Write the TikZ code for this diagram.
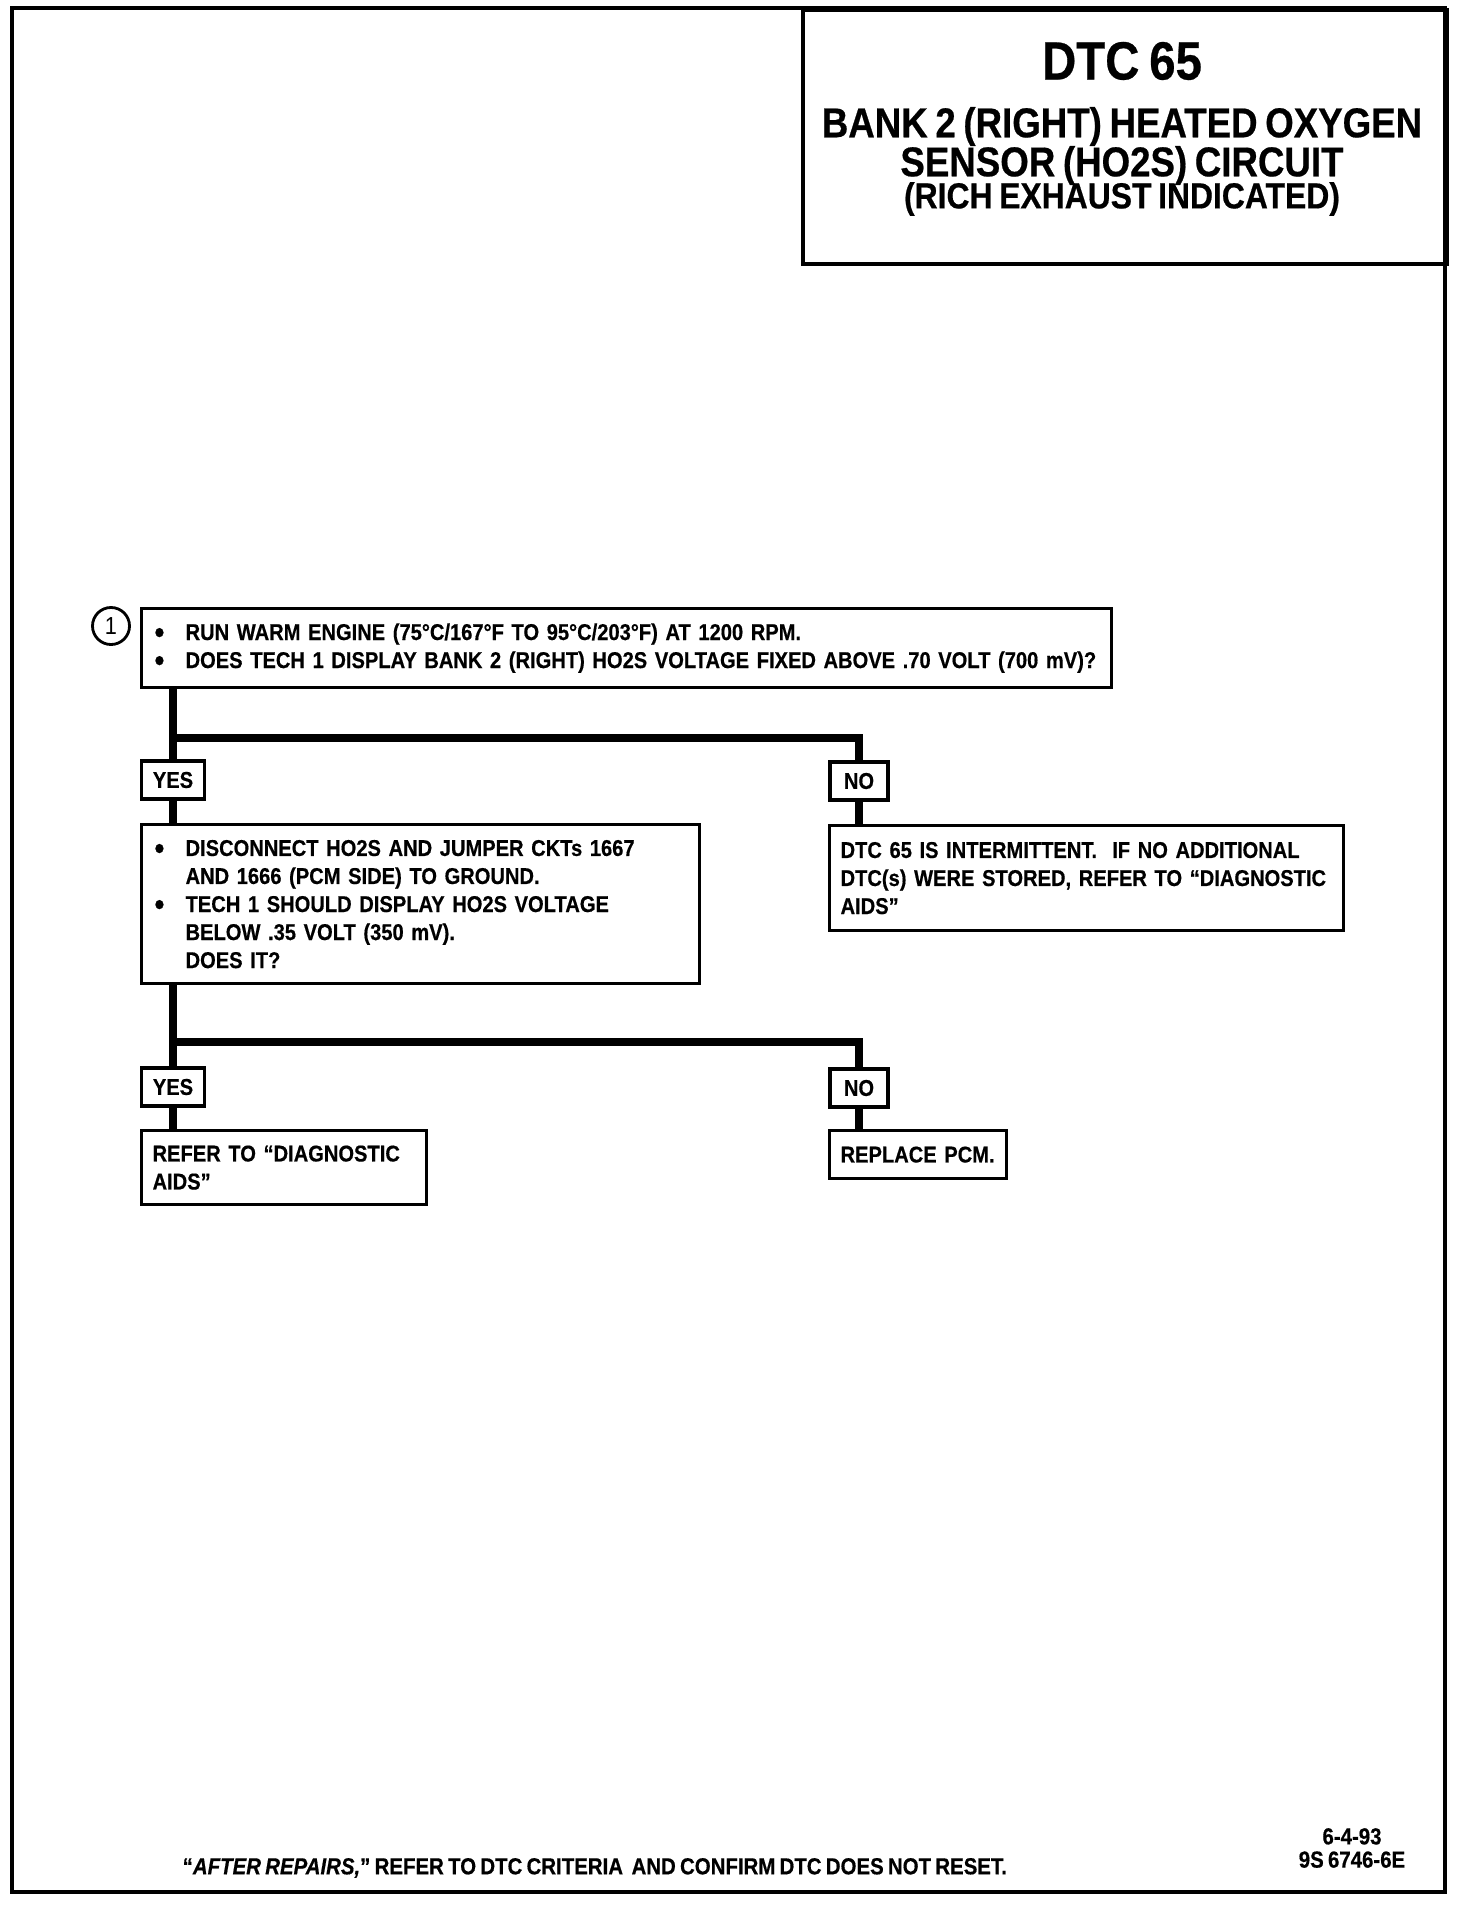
\documentclass[tikz,border=0pt]{standalone}
\usepackage{fontspec}
\setmainfont{Liberation Sans}[FakeStretch=0.88, WordSpace=0.75, BoldFeatures={FakeBold=0.5}, BoldItalicFeatures={FakeBold=0.5}]
\usetikzlibrary{positioning}
\hyphenpenalty=10000
\exhyphenpenalty=10000
\newcommand{\bodytext}{\fontsize{6.5pt}{7.97pt}\selectfont\bfseries}
\newcommand{\bul}{\makebox[0.33cm][l]{\hspace{0.02cm}\raisebox{-0.25ex}{\fontsize{9pt}{9pt}\selectfont\textbullet}}}
\newcommand{\hang}{\hspace*{0.33cm}}

\begin{document}
\begin{tikzpicture}[
  x=0.01cm, y=-0.01cm,
  font=\bodytext,
  box/.style={draw, line width=0.9pt, align=left, anchor=north west, inner xsep=0.11cm, inner ysep=0pt},
  answer/.style={draw, line width=0.9pt, inner sep=0pt, minimum height=0.38cm},
  flow/.style={line width=2pt, line join=miter}
]
\useasboundingbox (0,0) rectangle (1472,1906);
\draw[line width=1.4pt] (12,8) rectangle (1445,1892);
% title block
\node[draw, line width=1.1pt, anchor=north west, minimum width=6.44cm, minimum height=2.54cm] (titlebox) at (801,8) {};
\node[font=\fontsize{15.3pt}{17pt}\selectfont\bfseries] (dtc) at (1122,61) {DTC 65};
\node[align=center, font=\fontsize{11.85pt}{11.1pt}\selectfont\bfseries] (heading) at (1122,146) {BANK 2 (RIGHT) HEATED OXYGEN\\SENSOR (HO2S) CIRCUIT};
\node[font=\fontsize{10.3pt}{12pt}\selectfont\bfseries] (condition) at (1122,199) {(RICH EXHAUST INDICATED)};
% chart
\node[circle, draw, line width=0.8pt, minimum size=0.37cm, inner sep=0pt, font=\fontsize{7pt}{8pt}\selectfont\mdseries] (step) at (111,626) {1};
\node[box, text width=9.47cm, minimum height=0.79cm] (run) at (140,607) {\bul RUN WARM ENGINE (75°C/167°F TO 95°C/203°F) AT 1200 RPM.\\
\bul DOES TECH 1 DISPLAY BANK 2 (RIGHT) HO2S VOLTAGE FIXED ABOVE .70 VOLT (700 mV)?};
\coordinate (splitA) at (0,738);
\node[answer, minimum width=0.63cm] (yesA) at (173,780) {YES};
\node[answer, minimum width=0.58cm] (noA) at (859,781) {NO};
\node[box, text width=5.36cm, minimum height=1.59cm] (check) at (140,823) {\bul DISCONNECT HO2S AND JUMPER CKTs 1667\\
\hang AND 1666 (PCM SIDE) TO GROUND.\\
\bul TECH 1 SHOULD DISPLAY HO2S VOLTAGE\\
\hang BELOW .35 VOLT (350 mV).\\
\hang DOES IT?};
\node[box, text width=4.92cm, minimum height=1.05cm] (intermit) at (828,824) {DTC 65 IS INTERMITTENT.\ \ IF NO ADDITIONAL\\
DTC(s) WERE STORED, REFER TO “DIAGNOSTIC\\
AIDS”};
\coordinate (splitB) at (0,1042);
\node[answer, minimum width=0.63cm] (yesB) at (173,1087) {YES};
\node[answer, minimum width=0.58cm] (noB) at (859,1088) {NO};
\node[box, text width=2.63cm, minimum height=0.74cm] (refer) at (140,1129) {REFER TO “DIAGNOSTIC\\AIDS”};
\node[box, text width=1.55cm, minimum height=0.48cm] (replace) at (828,1129) {REPLACE PCM.};
\draw[flow] (yesA |- run.south) -- (yesA.north);
\draw[flow] (yesA |- splitA) -| (noA.north);
\draw[flow] (yesA.south) -- (yesA |- check.north);
\draw[flow] (noA.south) -- (noA |- intermit.north);
\draw[flow] (yesB |- check.south) -- (yesB.north);
\draw[flow] (yesB |- splitB) -| (noB.north);
\draw[flow] (yesB.south) -- (yesB |- refer.north);
\draw[flow] (noB.south) -- (noB |- replace.north);
% footer
\node[anchor=west, inner sep=0pt, font=\fontsize{6.6pt}{8pt}\selectfont\bfseries] (note) at (182,1868) {“\textit{AFTER REPAIRS,}” REFER TO DTC CRITERIA\ \ AND CONFIRM DTC DOES NOT RESET.};
\node[align=center, font=\fontsize{6.6pt}{6.6pt}\selectfont\bfseries] (stamp) at (1352,1848) {6-4-93\\9S 6746-6E};
\end{tikzpicture}
\end{document}
